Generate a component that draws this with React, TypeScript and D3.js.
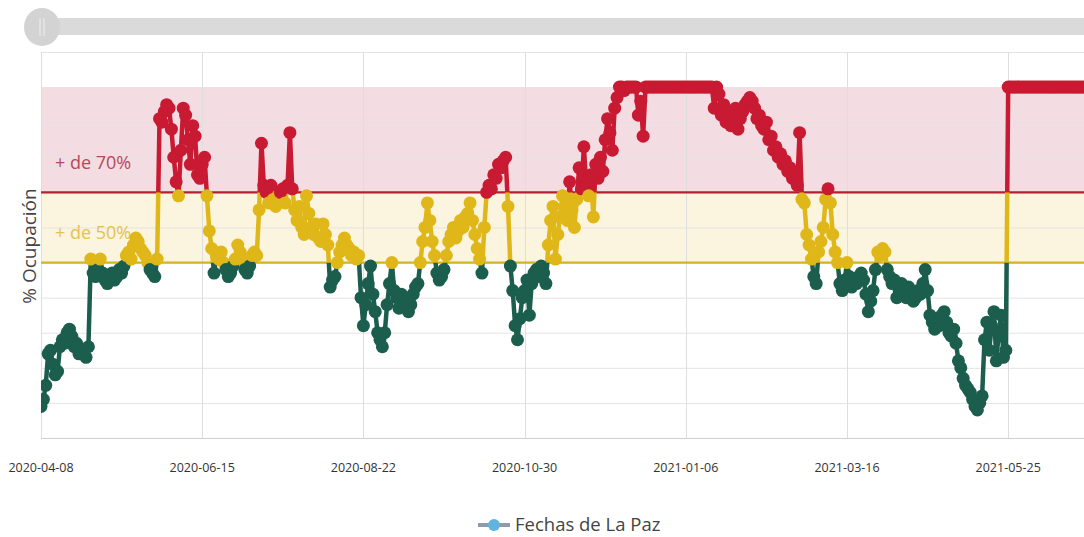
import React from "react";
import * as d3 from "d3";

// occupancy (%) per reported date, category index 0 = 2020-04-08
const occupancy = [
  9, 11, 15, 24, 25, 21, 18, 19, 26, 28,
  27, 30, 31, 29, 26, 27, 24, 25, 24, 23,
  26, 51, 47, 46, 48, 51, 47, 45, 44, 46,
  47, 45, 46, 48, 47, 49, 52, 53, 51, 55,
  57, 56, 54, 53, 52, 50, 48, 47, 46, 51,
  91, 90, 93, 95, 94, 88, 80, 73, 69, 82,
  94, 92, 85, 78, 89, 86, 75, 74, 78, 80,
  69, 59, 54, 47, 52, 51, 53, 50, 48, 46,
  47, 49, 51, 55, 53, 51, 48, 47, 49, 52,
  53, 52, 65, 84, 72, 70, 67, 72, 68, 66,
  69, 70, 71, 67, 72, 87, 71, 65, 62, 66,
  60, 58, 69, 64, 60, 58, 61, 57, 56, 61,
  58, 55, 43, 45, 46, 50, 53, 55, 57, 55,
  54, 52, 53, 51, 52, 40, 32, 38, 44, 49,
  41, 36, 30, 28, 26, 30, 38, 44, 50, 42,
  40, 37, 41, 40, 38, 36, 38, 41, 43, 44,
  50, 56, 60, 67, 62, 56, 52, 47, 45, 46,
  48, 52, 56, 58, 60, 57, 59, 62, 60, 63,
  64, 67, 62, 58, 54, 51, 47, 60, 70, 72,
  71, 75, 74, 78, 77, 79, 80, 66, 49, 42,
  32, 28, 34, 40, 42, 45, 35, 44, 47, 48,
  46, 49, 47, 44, 55, 62, 66, 51, 58, 63,
  69, 66, 62, 73, 65, 60, 68, 77, 71, 83,
  72, 69, 75, 63, 78, 74, 80, 76, 85, 91,
  87, 82, 94, 97, 100, 100, 99, 100, 100, 100,
  100, 100, 92, 96, 86, 100, 100, 100, 100, 100,
  100, 100, 100, 100, 100, 100, 100, 100, 100, 100,
  100, 100, 100, 100, 100, 100, 100, 100, 100, 100,
  100, 100, 100, 100, 94, 100, 98, 92, 95, 90,
  93, 89, 91, 94, 88, 91, 93, 95, 96, 97,
  96, 94, 91, 92, 89, 88, 90, 85, 86, 82,
  83, 80, 81, 78, 79, 76, 77, 74, 75, 72,
  87, 68, 67, 58, 55, 51, 46, 44, 53, 56,
  60, 68, 71, 67, 58, 53, 50, 44, 42, 45,
  50, 46, 43, 45, 44, 46, 47, 45, 41, 36,
  39, 42, 48, 53, 52, 54, 53, 48, 46, 44,
  45, 40, 42, 44, 41, 40, 43, 41, 39, 40,
  42, 41, 44, 48, 42, 35, 33, 31, 34, 32,
  35, 36, 33, 30, 29, 31, 27, 22, 20, 17,
  15, 14, 13, 11, 9, 8, 10, 12, 28, 33,
  25, 32, 36, 22, 30, 35, 23, 25, 100, 100,
  100, 100, 100, 100, 100, 100, 100, 100, 100, 100,
  100, 100, 100, 100, 100, 100, 100, 100, 100, 100,
  100, 100, 100, 100, 100, 100, 100, 100, 100, 100,
  100, 100, 100, 100,
];

// category labels shown every 68 entries
const tickLabels = [
  "2020-04-08",
  "2020-06-15",
  "2020-08-22",
  "2020-10-30",
  "2021-01-06",
  "2021-03-16",
  "2021-05-25",
];
const tickStep = 68;

const yTicks = [0, 10, 20, 30, 40, 50, 60, 70, 80, 90, 100, 110];
const zoneLimits = [0, 50, 70, 110];
const zoneColors = ["#1c5e4e", "#e0b719", "#c81a32"];
const bandLabels = ["+ de 50%", "+ de 70%"];
const seriesName = "Fechas de La Paz";
const yTitle = "% Ocupación";

const W = 1084;
const H = 537;
const left = 41;
const top = 52;
const bottom = 438;

const zoneOf = (v: number) => (v < 50 ? 0 : v < 70 ? 1 : 2);

export default function App() {
  const x = d3.scaleLinear().domain([0, tickStep]).range([left, left + 161.2]);
  const y = d3.scaleLinear().domain([0, 110]).range([bottom, top]);

  const pts = occupancy.map((v, i) => ({ d: i, v }));
  const line = d3
    .line<{ d: number; v: number }>()
    .x((p) => x(p.d))
    .y((p) => y(p.v));
  const path = line(pts) || "";

  const font = "'Open Sans', 'Noto Sans', sans-serif";

  return (
    <svg
      width={W}
      height={H}
      style={{ position: "absolute", left: 0, top: 0, background: "#fff" }}
    >
      <defs>
        <clipPath id="plot">
          <rect x={left} y={top} width={W - left} height={bottom - top} />
        </clipPath>
        {zoneColors.map((c, i) => (
          <clipPath id={"zone" + i} key={i}>
            <rect
              x={0}
              y={i === 2 ? 0 : y(zoneLimits[i + 1])}
              width={W}
              height={
                i === 2
                  ? y(zoneLimits[i])
                  : i === 0
                  ? H - y(zoneLimits[i + 1])
                  : y(zoneLimits[i]) - y(zoneLimits[i + 1])
              }
            />
          </clipPath>
        ))}
      </defs>

      {/* scrollbar */}
      <rect x={52} y={18} width={W - 52} height={17} fill="#dadada" />
      <ellipse cx={42} cy={27} rx={18} ry={19} fill="#d3d3d3" />
      <line x1={40} x2={40} y1={18} y2={36} stroke="#ececec" strokeWidth={1.2} />
      <line x1={44} x2={44} y1={18} y2={36} stroke="#ececec" strokeWidth={1.2} />

      {/* plot bands */}
      <rect
        x={left}
        y={y(100)}
        width={W - left}
        height={y(70) - y(100)}
        fill="#f4dde2"
      />
      <rect
        x={left}
        y={y(70)}
        width={W - left}
        height={y(50) - y(70)}
        fill="#fbf4de"
      />

      {/* grid */}
      {yTicks.map((t) => (
        <line
          key={"h" + t}
          x1={left}
          x2={W}
          y1={y(t) + 0.5}
          y2={y(t) + 0.5}
          stroke="#e3e3e3"
          strokeWidth={1}
        />
      ))}
      {tickLabels.map((l, i) => (
        <line
          key={"v" + l}
          x1={Math.round(x(i * tickStep)) + 0.5}
          x2={Math.round(x(i * tickStep)) + 0.5}
          y1={top}
          y2={bottom}
          stroke="#dedede"
          strokeWidth={1}
        />
      ))}
      <line x1={left} x2={W} y1={bottom + 0.5} y2={bottom + 0.5} stroke="#cfcfcf" />

      {/* plot lines */}
      <line x1={left} x2={W} y1={y(70)} y2={y(70)} stroke="#b3202f" strokeWidth={2.2} />
      <line x1={left} x2={W} y1={y(50)} y2={y(50)} stroke="#d4b421" strokeWidth={2.2} />

      <text x={55} y={169} fontFamily={font} fontSize={18} fill="#b8475a">
        {bandLabels[1]}
      </text>
      <text x={55} y={239} fontFamily={font} fontSize={18} fill="#e2c350">
        {bandLabels[0]}
      </text>

      {/* series */}
      <g clipPath="url(#plot)">
        {zoneColors.map((c, i) => (
          <path
            key={"l" + i}
            d={path}
            fill="none"
            stroke={c}
            strokeWidth={4.5}
            strokeLinejoin="round"
            clipPath={`url(#zone${i})`}
          />
        ))}
        {pts.map((p) => (
          <circle
            key={p.d}
            cx={x(p.d)}
            cy={y(p.v)}
            r={6.5}
            fill={zoneColors[zoneOf(p.v)]}
          />
        ))}
      </g>

      {/* x axis labels */}
      {tickLabels.map((l, i) => (
        <text
          key={"t" + l}
          x={x(i * tickStep)}
          y={472}
          textAnchor="middle"
          fontFamily={font}
          fontSize={12.5}
          fill="#333"
        >
          {l}
        </text>
      ))}

      {/* y title */}
      <text
        transform="translate(36,246) rotate(-90)"
        textAnchor="middle"
        fontFamily={font}
        fontSize={19}
        fill="#444"
      >
        {yTitle}
      </text>

      {/* legend */}
      <line x1={478} x2={510} y1={525} y2={525} stroke="#8d9cab" strokeWidth={4} />
      <circle cx={494} cy={525} r={6} fill="#62b4de" />
      <text x={515} y={531} fontFamily={font} fontSize={18.5} fill="#444">
        {seriesName}
      </text>
    </svg>
  );
}
